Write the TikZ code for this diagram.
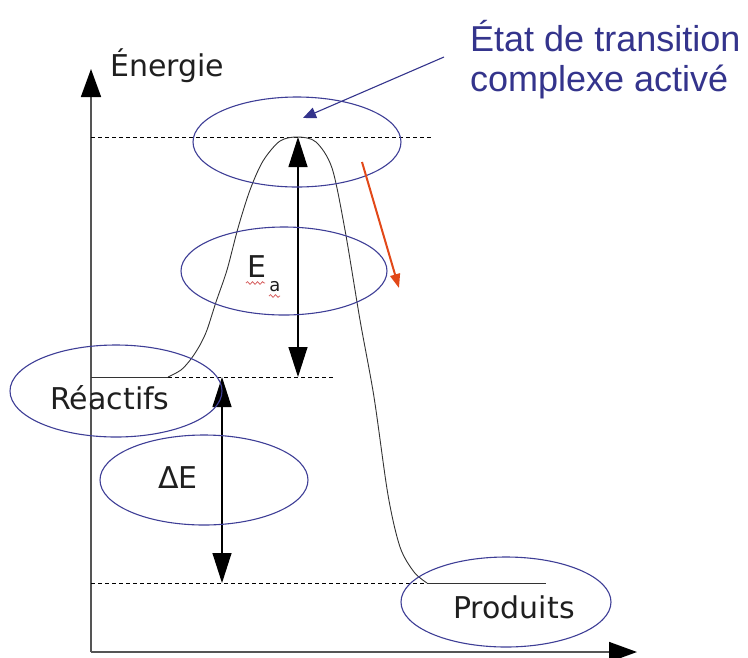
\documentclass[tikz,border=0pt]{standalone}
\usepackage{fontspec}
\setmainfont{DejaVu Sans}
\newfontfamily\labelfont{Liberation Sans}
\usetikzlibrary{arrows.meta,shapes.geometric,decorations.pathmorphing}
\definecolor{ringblue}{RGB}{62,62,150}
\definecolor{noteblue}{RGB}{52,52,140}
\definecolor{axisgray}{RGB}{85,85,85}
\definecolor{pathred}{RGB}{226,72,24}
\definecolor{squigred}{RGB}{214,96,96}
\tikzset{
  ring/.style={draw=ringblue, line width=1.1pt, ellipse, inner sep=0pt},
  lbl/.style={font=\fontsize{30}{34}\selectfont, text=black!88, inner sep=0pt},
  level/.style={black, line width=0.8pt, dash pattern=on 4pt off 3pt},
  axis/.style={axisgray, line width=1.6pt, -{Triangle[length=28pt,width=20pt,color=black]}},
  gap/.style={black, line width=1.2pt, {Triangle[length=30pt,width=19pt]}-{Triangle[length=30pt,width=19pt]}},
  squig/.style={squigred, line width=0.8pt, decorate, decoration={snake, amplitude=1.3pt, segment length=5pt}}
}
\begin{document}
\begin{tikzpicture}[x=1pt,y=-1pt]
\useasboundingbox (0,0) rectangle (748,657);

% axes
\coordinate (origin) at (91,652);
\coordinate (ytip) at (91,69);
\coordinate (xtip) at (637,652);
\draw[axis] (origin) -- (ytip);
\draw[axis] (origin) -- (xtip);
\node[lbl, anchor=west] (energy) at (110,66) {Énergie};

% energy levels
\coordinate (ts) at (298,137);
\coordinate (tsEnd) at (432,137);
\coordinate (tsStart) at (91,137);
\coordinate (reacStart) at (91,377);
\coordinate (reacCurve) at (168,377);
\coordinate (reacEnd) at (333,377);
\coordinate (prodStart) at (91,583);
\coordinate (prodCurve) at (427,583);
\coordinate (prodEnd) at (546,583);
\draw[level] (tsStart) -- (tsEnd);
\draw[level] (reacCurve) -- (reacEnd);
\draw[level] (prodStart) -- (prodCurve);
\draw[black!80, line width=1pt] (reacStart) -- (reacCurve);
\draw[black!80, line width=1pt] (prodCurve) -- (prodEnd);

% reaction profile
\draw[black!80, line width=0.9pt] plot[smooth, tension=0.5] coordinates {
  (168,377) (181,370) (191,359) (200,345) (207,330) (216,302) (227,270)
  (238,228) (250,190) (263,161) (280,141)
  (298,137) (316,142) (332,168) (345,230) (360,320) (374,397) (388,495)
  (400,547) (414,572) (427,583)};

% activation energy and energy change
\coordinate (eaBottom) at (298,377);
\coordinate (dTop) at (222,377);
\coordinate (dBottom) at (222,583);
\draw[gap] (ts) -- (eaBottom);
\draw[gap] (dTop) -- (dBottom);

% highlighted regions
\node[ring, minimum width=208pt, minimum height=90pt] (tsRing) at (297,142) {};
\node[ring, minimum width=206pt, minimum height=88pt] (eaRing) at (284,271) {};
\node[ring, minimum width=212pt, minimum height=92pt] (reacRing) at (116,391) {};
\node[ring, minimum width=208pt, minimum height=90pt] (dRing) at (204,480) {};
\node[ring, minimum width=210pt, minimum height=90pt] (prodRing) at (506,602) {};

% labels
\node[lbl] (ea) at (257,267) {E};
\node[lbl, font=\fontsize{18}{20}\selectfont] (eaSub) at (275,287) {a};
\draw[squig] (246,283) -- (265,283);
\draw[squig] (269,296) -- (280,296);
\node[lbl] (reac) at (110,398) {Réactifs};
\node[lbl] (delta) at (178,478) {ΔE};
\node[lbl] (prod) at (514,607) {Produits};

% transition state note
\node[font=\labelfont\fontsize{36}{40}\selectfont, text=noteblue, align=left, anchor=north west, inner sep=0pt] (note) at (470,20)
  {État de transition\\complexe activé};
\coordinate (noteFoot) at (444,57);
\coordinate (noteTip) at (303,118);
\draw[noteblue, line width=1.1pt, -{Triangle[length=13pt,width=11pt]}] (noteFoot) -- (noteTip);

% downhill direction
\coordinate (slopeTop) at (362,162);
\coordinate (slopeTip) at (399,288);
\draw[pathred, line width=2pt, -{Triangle[length=14pt,width=10pt]}] (slopeTop) -- (slopeTip);
\end{tikzpicture}
\end{document}
